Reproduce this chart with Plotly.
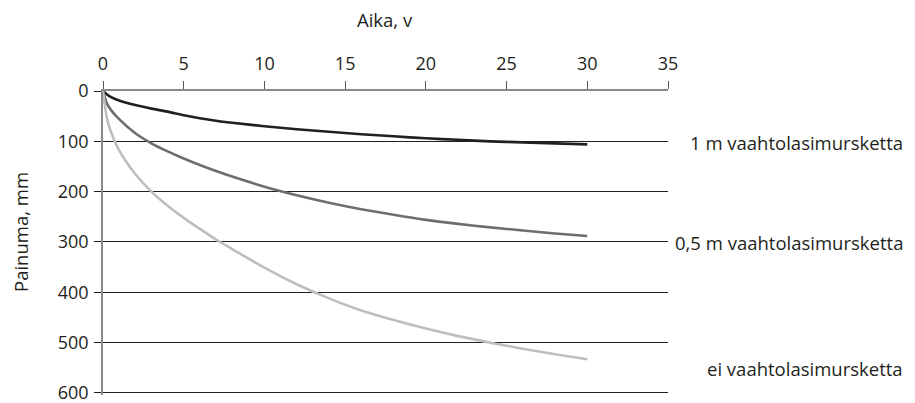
import plotly.graph_objects as go

# Data
aika = [0, 0.25, 0.5, 1, 2, 3, 4, 5, 6, 7, 8, 10, 12, 14, 16, 18, 20, 22, 24, 26, 28, 30]
painuma_1m = [0, 7, 12, 19, 28, 35, 41, 48, 54, 59, 63, 70, 76, 81, 86, 90, 94, 97, 100, 102, 104, 106]
painuma_05m = [0, 25, 38, 56, 84, 104, 120, 134, 147, 159, 170, 190, 207, 222, 235, 246, 256, 264, 271, 277, 283, 288]
painuma_ei = [0, 55, 82, 118, 165, 200, 228, 252, 274, 295, 314, 351, 384, 412, 436, 455, 472, 487, 500, 512, 523, 533]
series_names = ["1 m vaahtolasimursketta", "0,5 m vaahtolasimursketta", "ei vaahtolasimursketta"]
x_ticks = [0, 5, 10, 15, 20, 25, 30, 35]
y_ticks = [0, 100, 200, 300, 400, 500, 600]

FONT = "Open Sans"
TXT = "#231f20"
colors = ["#231f20", "#6d6e71", "#bcbec0"]

fig = go.Figure()
for vals, col, name in zip([painuma_1m, painuma_05m, painuma_ei], colors, series_names):
    fig.add_trace(go.Scatter(x=aika, y=vals, mode="lines", name=name,
                             line=dict(color=col, width=2.6, shape="spline", smoothing=0.8),
                             showlegend=False))

fig.update_layout(
    width=907, height=395,
    margin=dict(l=95, r=247, t=83, b=8),
    paper_bgcolor="white", plot_bgcolor="white",
    font=dict(family=FONT, size=18, color=TXT),
    xaxis=dict(side="top", range=[0, 35], tickvals=x_ticks, ticktext=[str(v) for v in x_ticks],
               ticks="outside", ticklen=8, tickcolor="#555555", tickwidth=1,
               showline=True, linecolor="#8a8a8a", linewidth=1.5,
               showgrid=False, zeroline=False, ticklabelstandoff=4,
               ticklabeloverflow="allow", automargin=False,
               tickfont=dict(family=FONT, size=18, color=TXT)),
    yaxis=dict(range=[604, 0], tickvals=y_ticks, ticktext=[str(v) for v in y_ticks],
               ticks="outside", ticklen=7, tickcolor="#231f20", tickwidth=1,
               showline=True, linecolor="#8a8a8a", linewidth=1.5,
               showgrid=True, gridcolor="#231f20", gridwidth=1,
               zeroline=False, ticklabelstandoff=2,
               ticklabeloverflow="allow", automargin=False,
               tickfont=dict(family=FONT, size=18, color=TXT)),
)

annots = [
    dict(text="Aika, v", x=0.4991, y=1.2336, xanchor="center", yanchor="middle"),
    dict(text="Painuma, mm", x=-0.147, y=0.536, xanchor="center", yanchor="middle", textangle=-90),
    dict(text=series_names[0], x=1.4177, y=0.829, xanchor="right", yanchor="middle"),
    dict(text=series_names[1], x=1.4177, y=0.503, xanchor="right", yanchor="middle"),
    dict(text=series_names[2], x=1.4177, y=0.0888, xanchor="right", yanchor="middle"),
]
for a in annots:
    fig.add_annotation(xref="paper", yref="paper", showarrow=False, borderpad=0,
                       font=dict(family=FONT, size=18.5, color=TXT), **a)

fig.write_html("out.html")
